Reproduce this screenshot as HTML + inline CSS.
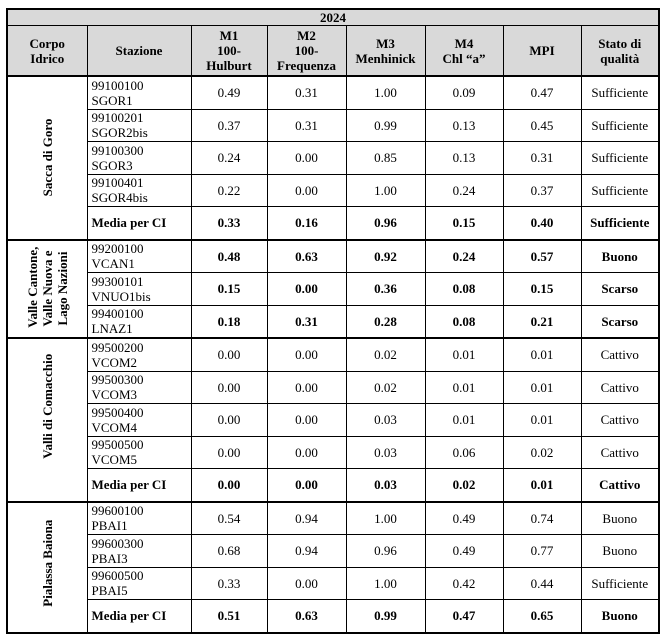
<!DOCTYPE html>
<html><head><style>
body{margin:0;background:#fff;}
table{position:absolute;left:6px;top:8px;border-collapse:collapse;table-layout:fixed;width:652px;font-family:"Liberation Serif",serif;font-size:13px;color:#000;border:2px solid #000;}
td,th{font-family:"Liberation Serif",serif;font-size:13px;border:1px solid #000;padding:0 4px;text-align:center;height:31.5px;line-height:15px;overflow:hidden;}
th{background:#d9d9d9;font-weight:bold;}
tr.y th{height:15px;line-height:15px;}
tr.h th{height:49px;}
td.s{text-align:left;}
.b td{font-weight:bold;}
tr.g td{border-top:2px solid #000;}
td.v{font-weight:bold;padding:0;}
.v div{transform:rotate(-90deg);white-space:nowrap;line-height:15px;}
</style></head><body>
<table>
<colgroup><col style="width:80px"><col style="width:104px"><col style="width:76px"><col style="width:79px"><col style="width:79px"><col style="width:78px"><col style="width:78px"><col style="width:78px"></colgroup>
<tr class="y"><th colspan="8">2024</th></tr>
<tr class="h"><th>Corpo<br>Idrico</th><th>Stazione</th><th>M1<br>100-<br>Hulburt</th><th>M2<br>100-<br>Frequenza</th><th>M3<br>Menhinick</th><th>M4<br>Chl “a”</th><th>MPI</th><th>Stato di<br>qualità</th></tr>
<tr class="g"><td class="v" rowspan="5"><div>Sacca di Goro</div></td><td class="s">99100100<br>SGOR1</td><td>0.49</td><td>0.31</td><td>1.00</td><td>0.09</td><td>0.47</td><td>Sufficiente</td></tr>
<tr><td class="s">99100201<br>SGOR2bis</td><td>0.37</td><td>0.31</td><td>0.99</td><td>0.13</td><td>0.45</td><td>Sufficiente</td></tr>
<tr><td class="s">99100300<br>SGOR3</td><td>0.24</td><td>0.00</td><td>0.85</td><td>0.13</td><td>0.31</td><td>Sufficiente</td></tr>
<tr><td class="s">99100401<br>SGOR4bis</td><td>0.22</td><td>0.00</td><td>1.00</td><td>0.24</td><td>0.37</td><td>Sufficiente</td></tr>
<tr class="b"><td class="s">Media per CI</td><td>0.33</td><td>0.16</td><td>0.96</td><td>0.15</td><td>0.40</td><td>Sufficiente</td></tr>
<tr class="g b"><td class="v" rowspan="3"><div>Valle Cantone,<br>Valle Nuova e<br>Lago Nazioni</div></td><td class="s" style="font-weight:normal">99200100<br>VCAN1</td><td>0.48</td><td>0.63</td><td>0.92</td><td>0.24</td><td>0.57</td><td>Buono</td></tr>
<tr class="b"><td class="s" style="font-weight:normal">99300101<br>VNUO1bis</td><td>0.15</td><td>0.00</td><td>0.36</td><td>0.08</td><td>0.15</td><td>Scarso</td></tr>
<tr class="b"><td class="s" style="font-weight:normal">99400100<br>LNAZ1</td><td>0.18</td><td>0.31</td><td>0.28</td><td>0.08</td><td>0.21</td><td>Scarso</td></tr>
<tr class="g"><td class="v" rowspan="5"><div>Valli di Comacchio</div></td><td class="s">99500200<br>VCOM2</td><td>0.00</td><td>0.00</td><td>0.02</td><td>0.01</td><td>0.01</td><td>Cattivo</td></tr>
<tr><td class="s">99500300<br>VCOM3</td><td>0.00</td><td>0.00</td><td>0.02</td><td>0.01</td><td>0.01</td><td>Cattivo</td></tr>
<tr><td class="s">99500400<br>VCOM4</td><td>0.00</td><td>0.00</td><td>0.03</td><td>0.01</td><td>0.01</td><td>Cattivo</td></tr>
<tr><td class="s">99500500<br>VCOM5</td><td>0.00</td><td>0.00</td><td>0.03</td><td>0.06</td><td>0.02</td><td>Cattivo</td></tr>
<tr class="b"><td class="s">Media per CI</td><td>0.00</td><td>0.00</td><td>0.03</td><td>0.02</td><td>0.01</td><td>Cattivo</td></tr>
<tr class="g"><td class="v" rowspan="4"><div>Pialassa Baiona</div></td><td class="s">99600100<br>PBAI1</td><td>0.54</td><td>0.94</td><td>1.00</td><td>0.49</td><td>0.74</td><td>Buono</td></tr>
<tr><td class="s">99600300<br>PBAI3</td><td>0.68</td><td>0.94</td><td>0.96</td><td>0.49</td><td>0.77</td><td>Buono</td></tr>
<tr><td class="s">99600500<br>PBAI5</td><td>0.33</td><td>0.00</td><td>1.00</td><td>0.42</td><td>0.44</td><td>Sufficiente</td></tr>
<tr class="b"><td class="s">Media per CI</td><td>0.51</td><td>0.63</td><td>0.99</td><td>0.47</td><td>0.65</td><td>Buono</td></tr>
</table>
</body></html>
